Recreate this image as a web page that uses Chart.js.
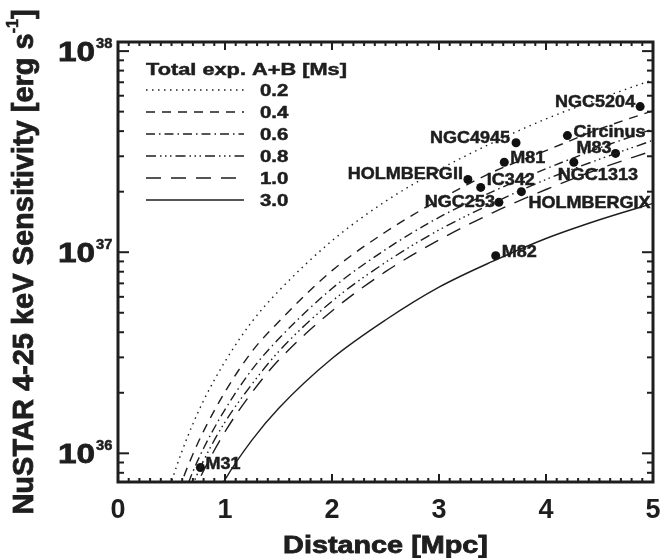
<!DOCTYPE html>
<html>
<head>
<meta charset="utf-8">
<script src="https://cdn.jsdelivr.net/npm/chart.js@4.4.1/dist/chart.umd.min.js"></script>
<style>
  html, body { margin: 0; padding: 0; background: #fff; }
</style>
</head>
<body>
<canvas id="grafico" width="660" height="558"></canvas>
<script>
const distances = [0.4, 0.5, 0.6, 0.7, 0.8, 1.0, 1.25, 1.5, 2, 2.5, 3, 3.5, 4, 4.5, 5];

// sensitivity (erg/s) for each total exposure A+B
const sens02 = [4.6e35, 7.2e35, 1.03e36, 1.4e36, 1.83e36, 2.86e36, 4.5e36, 6.4e36, 1.14e37, 1.79e37, 2.57e37, 3.5e37, 4.6e37, 5.8e37, 7.2e37];
const sens04 = [3.2e35, 5.1e35, 7.3e35, 9.9e35, 1.29e36, 2.02e36, 3.2e36, 4.5e36, 8.1e36, 1.26e37, 1.82e37, 2.5e37, 3.2e37, 4.1e37, 5.05e37];
const sens06 = [2.6e35, 4.1e35, 5.9e35, 8.1e35, 1.06e36, 1.65e36, 2.6e36, 3.7e36, 6.6e36, 1.03e37, 1.49e37, 2.0e37, 2.6e37, 3.3e37, 4.1e37];
const sens08 = [2.3e35, 3.6e35, 5.1e35, 7.0e35, 9.2e35, 1.43e36, 2.2e36, 3.2e36, 5.7e36, 8.9e36, 1.29e37, 1.75e37, 2.3e37, 2.9e37, 3.6e37];
const sens10 = [2.0e35, 3.2e35, 4.6e35, 6.3e35, 8.2e35, 1.28e36, 2.0e36, 2.9e36, 5.1e36, 8.0e36, 1.15e37, 1.57e37, 2.05e37, 2.6e37, 3.2e37];
const sens30 = [1.2e35, 1.85e35, 2.7e35, 3.6e35, 4.7e35, 7.4e35, 1.16e36, 1.67e36, 2.96e36, 4.6e36, 6.7e36, 9.0e36, 1.17e37, 1.45e37, 1.75e37];
const exposures = ['0.2', '0.4', '0.6', '0.8', '1.0', '3.0'];
const curves = [sens02, sens04, sens06, sens08, sens10, sens30];

// galaxies
const galaxies = ['M31', 'M82', 'NGC5204', 'Circinus', 'NGC4945', 'M81', 'M83', 'NGC1313', 'HOLMBERGII', 'IC342', 'HOLMBERGIX', 'NGC253'];
const galDist = [0.77, 3.53, 4.88, 4.20, 3.72, 3.61, 4.65, 4.26, 3.27, 3.39, 3.77, 3.56];
const galSens = [8.5e35, 9.6e36, 5.3e37, 3.8e37, 3.5e37, 2.8e37, 3.1e37, 2.8e37, 2.3e37, 2.1e37, 2.0e37, 1.77e37];

// styles
const dashes = [[1.5, 4.5], [9, 7], [9, 4, 1.5, 4], [10, 4, 1.5, 3.5, 1.5, 3.5, 1.5, 4], [15, 10], []];
// label offset from the dot: dx, dy, align
const labelPos = [[5, 1, 'left'], [6, 1, 'left'], [-5, 0, 'right'], [6, 1, 'left'], [-6, 0, 'right'], [6, 1, 'left'],
                  [-4, 0, 'right'], [-16, 18, 'left'], [-5, 0, 'right'], [6, -2, 'left'], [7, 16, 'left'], [-4, 5, 'right']];

const FONTE = '"Liberation Sans", Arial, Helvetica, sans-serif';
const COR = '#1e1e1e';

function texto(ctx, s, x, y, size, align, sx) {
    ctx.save();
    ctx.font = 'bold ' + size + 'px ' + FONTE;
    ctx.fillStyle = COR;
    ctx.strokeStyle = COR;
    ctx.lineWidth = size > 20 ? 0.8 : 0.5;
    ctx.textBaseline = 'alphabetic';
    ctx.textAlign = align || 'left';
    ctx.translate(x, y);
    ctx.scale(sx || 1, 1);
    ctx.fillText(s, 0, 0);
    ctx.strokeText(s, 0, 0);
    ctx.restore();
}

function linha(ctx, x1, y1, x2, y2) {
    ctx.beginPath();
    ctx.moveTo(x1, y1);
    ctx.lineTo(x2, y2);
    ctx.stroke();
}

// frame with inward ticks on all four sides
const molduraPlugin = {
    id: 'moldura',
    afterDraw(chart) {
        const { ctx, chartArea: a, scales: { x, y } } = chart;
        ctx.save();
        ctx.strokeStyle = COR;
        ctx.lineWidth = 2;
        for (let k = 0; k <= 50; k++) {
            const px = x.getPixelForValue(k / 10);
            const len = k % 10 === 0 ? 8 : 4;
            linha(ctx, px, a.bottom, px, a.bottom - len);
            linha(ctx, px, a.top, px, a.top + len);
        }
        for (let e = 35; e <= 38; e++) {
            for (let m = 1; m <= 9; m++) {
                const v = m * Math.pow(10, e);
                if (v < y.min || v > y.max) continue;
                const py = y.getPixelForValue(v);
                const len = m === 1 ? 11 : 6;
                linha(ctx, a.left, py, a.left + len, py);
                linha(ctx, a.right, py, a.right - len, py);
            }
        }
        ctx.lineWidth = 3;
        ctx.strokeRect(a.left, a.top, a.right - a.left, a.bottom - a.top);
        ctx.restore();
    }
};

// tick labels with exponents, axis titles, legend and galaxy names
const textosPlugin = {
    id: 'textos',
    afterDraw(chart) {
        const { ctx, chartArea: a, scales: { y } } = chart;

        [36, 37, 38].forEach(e => {
            const py = y.getPixelForValue(Math.pow(10, e));
            texto(ctx, '10', 95, py + 10, 28, 'right', 1.19);
            texto(ctx, String(e), 96, py - 3, 14, 'left', 1.05);
        });

        // y title, rotated
        ctx.save();
        ctx.font = 'bold 29px ' + FONTE;
        const t1 = 'NuSTAR 4-25 keV Sensitivity [erg s';
        const w1 = ctx.measureText(t1).width;
        const w3 = ctx.measureText(']').width;
        ctx.font = 'bold 16px ' + FONTE;
        const w2 = ctx.measureText('-1').width;
        const x0 = -(w1 + w2 + w3) / 2;
        ctx.translate(33, 262);
        ctx.rotate(-Math.PI / 2);
        texto(ctx, t1, x0, 0, 29, 'left');
        texto(ctx, '-1', x0 + w1, -15, 16, 'left');
        texto(ctx, ']', x0 + w1 + w2, 0, 29, 'left');
        ctx.restore();

        texto(ctx, 'Distance [Mpc]', (a.left + a.right) / 2, 553, 24, 'center', 1.2);

        // legend
        texto(ctx, 'Total exp. A+B [Ms]', 146, 75, 17, 'left', 1.28);
        exposures.forEach((lab, i) => {
            const ly = 90 + 22 * i;
            const ds = chart.data.datasets[i];
            ctx.save();
            ctx.strokeStyle = ds.borderColor;
            ctx.lineWidth = ds.borderWidth;
            ctx.setLineDash(ds.borderDash);
            linha(ctx, 146, ly, 244, ly);
            ctx.restore();
            texto(ctx, lab, 260, ly + 6, 17, 'left', 1.2);
        });

        // galaxy names
        const meta = chart.getDatasetMeta(curves.length);
        meta.data.forEach((pt, i) => {
            const [dx, dy, al] = labelPos[i];
            texto(ctx, galaxies[i], pt.x + dx, pt.y + dy, 17, al, 1.06);
        });
    }
};

const datasets = curves.map((c, i) => ({
    label: exposures[i],
    data: distances.map((d, j) => ({ x: d, y: c[j] })),
    borderColor: COR,
    borderWidth: 1.4,
    borderDash: dashes[i],
    pointRadius: 0,
    fill: false,
    cubicInterpolationMode: 'monotone'
}));

datasets.push({
    type: 'scatter',
    label: 'galaxies',
    data: galDist.map((d, i) => ({ x: d, y: galSens[i] })),
    pointRadius: 4.5,
    backgroundColor: '#111',
    borderWidth: 0
});

new Chart(document.getElementById('grafico'), {
    type: 'line',
    data: { datasets: datasets },
    options: {
        responsive: false,
        animation: false,
        devicePixelRatio: 1,
        layout: { padding: { top: 42, right: 7, left: 0, bottom: 0 } },
        plugins: { legend: { display: false }, tooltip: { enabled: false } },
        scales: {
            x: {
                type: 'linear', min: 0, max: 5,
                grid: { display: false, drawTicks: false },
                border: { display: false },
                ticks: { stepSize: 1, autoSkip: false, maxRotation: 0, padding: 12, color: COR,
                         font: { size: 27, weight: 'bold', family: FONTE } },
                afterFit: s => { s.height = 76; s.paddingLeft = 0; s.paddingRight = 0; }
            },
            y: {
                type: 'logarithmic', min: 7.2e35, max: 1.11e38,
                grid: { display: false, drawTicks: false },
                border: { display: false },
                ticks: { display: false },
                afterFit: s => { s.width = 118; }
            }
        }
    },
    plugins: [molduraPlugin, textosPlugin]
});
</script>
</body>
</html>
